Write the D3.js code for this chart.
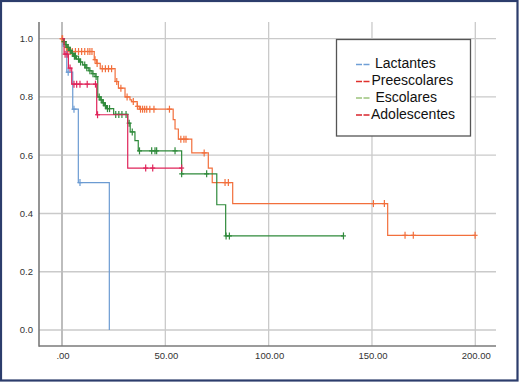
<!DOCTYPE html>
<html>
<head>
<meta charset="utf-8">
<script src="https://cdn.jsdelivr.net/npm/d3@7"></script>
<style>
  body { margin: 0; background: #fff; }
  text { font-family: "Liberation Sans", Arial, sans-serif; }
</style>
</head>
<body>
<div id="chart"></div>
<script>
// group names + legend dash colours (as printed in the legend)
var groups = ["Lactantes", "Preescolares", "Escolares", "Adolescentes"];
var legendColors = ["#6f9fd6", "#e0302c", "#9cc47c", "#d9252c"];
// curve colours
var curveColors = ["#6b9bd2", "#f26f3c", "#2f8a3b", "#e0245a"];

// tick labels
var xTicks = [0, 50, 100, 150, 200];
var yTicks = [0, 0.2, 0.4, 0.6, 0.8, 1.0];

// Lactantes
var lactT = [0.5, 2.3, 5.2, 7.9, 22.9];
var lactS = [0.974, 0.885, 0.758, 0.506, 0.0];
var lactCens = [3.0, 5.8, 8.7];
var lactEnd = 22.9;

// Preescolares
var preT = [0.5, 1.2, 1.8, 2.5, 3.5, 15.6, 16.8, 18.5, 25.7, 27.3, 30.5, 32.9, 33.7, 36.4, 37.4,
    53.8, 54.7, 56.3, 62.8, 70.8, 72.7, 82.6, 157.6];
var preS = [0.99, 0.98, 0.97, 0.965, 0.956, 0.928, 0.915, 0.897, 0.853, 0.83, 0.8, 0.79, 0.784, 0.768, 0.758,
    0.722, 0.69, 0.655, 0.608, 0.556, 0.506, 0.434, 0.325];
var preCens = [0, 0.3, 1, 2.2, 3, 4, 5, 6.5, 8, 9.5, 11, 12.5, 13.5, 14.5, 16, 17, 19.5, 21, 22.5, 24,
    26.5, 28.5, 31.5, 34.5, 36.5, 38, 39, 40, 41, 42.5, 44.5, 52, 57.5, 59, 60, 68.8, 78.9, 80.5,
    150.7, 156, 166, 170, 199.9];
var preEnd = 199.9;

// Escolares
var escT = [0.8, 1.5, 2.5, 3.5, 4.5, 5.5, 7, 8.5, 10, 11.5, 13, 14.5, 16, 17.3, 18.5, 19.5, 20.5, 21.5,
    25, 31.8, 33, 35.3, 36.9, 57.9, 74.9, 79.2];
var escS = [0.99, 0.98, 0.97, 0.96, 0.95, 0.94, 0.93, 0.92, 0.91, 0.9, 0.89, 0.88, 0.87, 0.8, 0.79, 0.78,
    0.77, 0.76, 0.74, 0.71, 0.68, 0.65, 0.615, 0.536, 0.43, 0.323];
var escCens = [1, 2, 3, 4, 5, 6, 6.5, 8, 9, 11, 12, 13.5, 15, 16.5, 18, 19, 20, 21, 22, 23, 26, 27.5,
    29, 31, 32.5, 34, 37.5, 43.4, 45, 45.8, 54.7, 57.9, 70, 79.4, 81, 136.2];
var escEnd = 136.2;

// Adolescentes
var adoT = [1.0, 3.1, 4.7, 16.8, 31.8];
var adoS = [0.947, 0.899, 0.844, 0.739, 0.556];
var adoCens = [1.5, 2.5, 3.9, 5.8, 7.1, 8.7, 12.2, 16.2, 17.2, 40.5, 43.9, 57.9];
var adoEnd = 57.9;

var series = [
    { t: lactT, s: lactS, cens: lactCens, end: lactEnd },
    { t: preT, s: preS, cens: preCens, end: preEnd },
    { t: escT, s: escS, cens: escCens, end: escEnd },
    { t: adoT, s: adoS, cens: adoCens, end: adoEnd }
];

var W = 519, H = 382;

var svg = d3.select("#chart")
    .append("svg")
    .attr("width", W)
    .attr("height", H);

svg.append("rect")
    .attr("x", 1).attr("y", 1)
    .attr("width", W - 2.5).attr("height", H - 2.5)
    .attr("fill", "#fff")
    .attr("stroke", "#2c3d6c")
    .attr("stroke-width", 2.2);

var xScale = d3.scaleLinear().domain([0, 200]).range([62, 475.3]);
var yScale = d3.scaleLinear().domain([0, 1]).range([330, 38.7]);

var plotL = 39, plotR = 496, plotT = 22, plotB = 346;

// gridlines
svg.append("g").selectAll("line")
    .data(yTicks).enter().append("line")
    .attr("x1", plotL).attr("x2", plotR)
    .attr("y1", function (d) { return yScale(d); })
    .attr("y2", function (d) { return yScale(d); })
    .attr("stroke", "#cacaca").attr("stroke-width", 1.3);

svg.append("g").selectAll("line")
    .data(xTicks).enter().append("line")
    .attr("y1", plotT).attr("y2", plotB)
    .attr("x1", function (d) { return xScale(d); })
    .attr("x2", function (d) { return xScale(d); })
    .attr("stroke", function (d) { return d === 0 ? "#bdbdbd" : "#cacaca"; })
    .attr("stroke-width", function (d) { return d === 0 ? 2 : 1.3; });

// axis lines
svg.append("line").attr("x1", plotL).attr("x2", plotL).attr("y1", plotT).attr("y2", plotB + 0.8)
    .attr("stroke", "#7a7a7a").attr("stroke-width", 1.6);
svg.append("line").attr("x1", plotL).attr("x2", plotR).attr("y1", plotB).attr("y2", plotB)
    .attr("stroke", "#7a7a7a").attr("stroke-width", 1.6);

// tick labels
svg.append("g").selectAll("text")
    .data(yTicks).enter().append("text")
    .attr("x", 33)
    .attr("y", function (d) { return yScale(d); })
    .attr("dy", "0.35em")
    .attr("text-anchor", "end")
    .attr("font-size", 9.5)
    .attr("fill", "#333")
    .text(function (d) { return d.toFixed(1); });

svg.append("g").selectAll("text")
    .data(xTicks).enter().append("text")
    .attr("x", function (d) { return xScale(d) + 1; })
    .attr("y", 355.5)
    .attr("dy", "0.35em")
    .attr("text-anchor", "middle")
    .attr("font-size", 9.5)
    .attr("fill", "#333")
    .text(function (d) { return d === 0 ? ".00" : d.toFixed(2); });

// step lines
var line = d3.line()
    .x(function (d) { return xScale(d[0]); })
    .y(function (d) { return yScale(d[1]); })
    .curve(d3.curveStepAfter);

function survAt(sr, time) {
    var i = d3.bisectRight(sr.t, time);
    return i === 0 ? 1 : sr.s[i - 1];
}

series.forEach(function (sr, k) {
    var pts = [[0, 1]];
    sr.t.forEach(function (t, i) { pts.push([t, sr.s[i]]); });
    pts.push([sr.end, sr.s[sr.s.length - 1]]);

    svg.append("path")
        .datum(pts)
        .attr("fill", "none")
        .attr("stroke", curveColors[k])
        .attr("stroke-width", 1.2)
        .attr("d", line);

    var g = svg.append("g").attr("stroke", curveColors[k]).attr("stroke-width", 1.2);
    sr.cens.forEach(function (c) {
        var cx = xScale(c), cy = yScale(survAt(sr, c));
        g.append("line").attr("x1", cx).attr("x2", cx).attr("y1", cy - 3.5).attr("y2", cy + 3.5);
        g.append("line").attr("x1", cx - 2.5).attr("x2", cx + 2.5).attr("y1", cy).attr("y2", cy);
    });
});

// legend
var legend = svg.append("g");
legend.append("rect")
    .attr("x", 336.5).attr("y", 39.5)
    .attr("width", 134).attr("height", 96.5)
    .attr("fill", "#fff")
    .attr("stroke", "#555")
    .attr("stroke-width", 1.3);

var legY = [63.5, 80.5, 97, 114];
var legX = [375, 371.5, 375.5, 371];
groups.forEach(function (name, i) {
    legend.append("line")
        .attr("x1", 356).attr("x2", 370)
        .attr("y1", legY[i] + 1).attr("y2", legY[i] + 1)
        .attr("stroke", legendColors[i])
        .attr("stroke-width", 1.6)
        .attr("stroke-dasharray", "6,1.5");
    legend.append("text")
        .attr("x", legX[i])
        .attr("y", legY[i])
        .attr("dy", "0.35em")
        .attr("font-size", 14)
        .attr("fill", "#111")
        .text(name);
});
</script>
</body>
</html>
